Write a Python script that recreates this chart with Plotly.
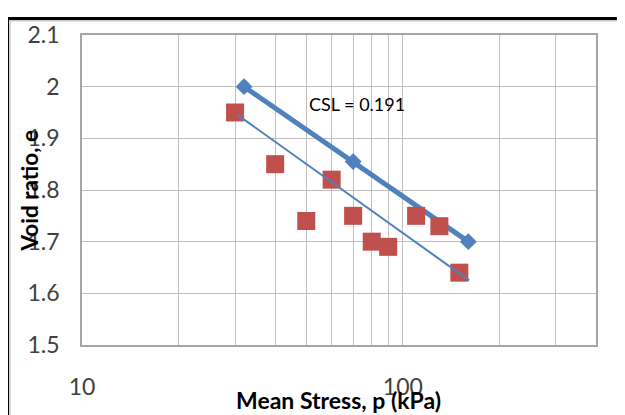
import math
import plotly.graph_objects as go

# CSL line (blue diamonds)
csl_p = [32, 70, 160]
csl_e = [2.0, 1.855, 1.70]

# test points (red squares)
test_p = [30, 40, 50, 60, 70, 80, 90, 110, 130, 150]
test_e = [1.95, 1.85, 1.74, 1.82, 1.75, 1.70, 1.69, 1.75, 1.73, 1.64]

# fitted line through the test points
fit_p = [30.6, 161]
fit_e = [1.945, 1.625]

x_grid = [10, 20, 30, 40, 50, 60, 70, 80, 90, 100, 200, 300]
x_labels = ["10", "", "", "", "", "", "", "", "", "100", "", ""]
y_ticks = [1.5, 1.6, 1.7, 1.8, 1.9, 2.0, 2.1]
y_labels = ["1.5", "1.6", "1.7", "1.8", "1.9", "2", "2.1"]

BLUE = "#4F81BD"
RED = "#C0504D"
FONT = "Lato"

# plot area in pixels of the 625 x 415 window
L, R, T, B = 82, 596, 28, 345
W, H = 625, 415
OFF = 8  # browser body margin


def px(x):
    return (x - L) / (R - L)


def py(y):
    return (B - y) / (B - T)


fig = go.Figure()
fig.add_trace(go.Scatter(
    x=csl_p, y=csl_e, mode="lines+markers", name="CSL",
    line=dict(color=BLUE, width=5),
    marker=dict(symbol="diamond", size=13, color=BLUE),
))
fig.add_trace(go.Scatter(
    x=test_p, y=test_e, mode="markers", name="Tests",
    marker=dict(symbol="square", size=18, color=RED),
))
fig.add_trace(go.Scatter(
    x=fit_p, y=fit_e, mode="lines", name="Fit",
    line=dict(color=BLUE, width=2),
))

shapes = [
    # white box behind the label
    dict(type="rect", xref="paper", yref="paper", layer="between",
         x0=px(293), x1=px(453), y0=py(107), y1=py(75),
         fillcolor="white", line=dict(width=0)),
    # chart frame (top and left visible)
    dict(type="rect", xref="paper", yref="paper", layer="above",
         x0=px(10), x1=px(700), y0=py(500), y1=py(13.5),
         line=dict(color="#C8C8C8", width=1.5)),
    dict(type="rect", xref="paper", yref="paper", layer="above",
         x0=px(7.5), x1=px(700), y0=py(500), y1=py(11),
         line=dict(color="black", width=3)),
]

annotations = [
    dict(text="CSL = 0.191", xref="paper", yref="paper",
         x=px(357), y=py(99), xanchor="center", yanchor="middle",
         showarrow=False,
         font=dict(family=FONT, size=18, color="black")),
    dict(text="<b>Mean Stress, p (kPa)</b>", xref="paper", yref="paper",
         x=px(338), y=py(401), xanchor="center", yanchor="middle",
         showarrow=False,
         font=dict(family=FONT, size=23, color="black")),
    dict(text="<b>Void ratio, e</b>", xref="paper", yref="paper",
         x=px(29), y=py(188), xanchor="center", yanchor="middle",
         showarrow=False, textangle=-90,
         font=dict(family=FONT, size=22.5, color="black")),
]

fig.update_layout(
    width=W - OFF, height=H - OFF,
    margin=dict(l=L - OFF, r=W - R, t=T - OFF, b=H - B, pad=0),
    paper_bgcolor="white", plot_bgcolor="white",
    showlegend=False,
    shapes=shapes,
    annotations=annotations,
    font=dict(family=FONT, size=23, color="#404040"),
)
fig.update_xaxes(
    type="log", range=[1, math.log10(400)],
    tickvals=x_grid, ticktext=x_labels,
    showgrid=True, gridcolor="#BFBFBF", gridwidth=1,
    showline=True, linecolor="#A6A6A6", linewidth=1.5, mirror=True,
    ticks="", ticklabelstandoff=21, zeroline=False,
)
fig.update_yaxes(
    range=[1.5, 2.1],
    tickvals=y_ticks, ticktext=y_labels,
    showgrid=True, gridcolor="#BFBFBF", gridwidth=1,
    showline=True, linecolor="#A6A6A6", linewidth=1.5, mirror=True,
    ticks="", ticklabelstandoff=16, zeroline=False,
)

fig.write_html("out.html")
